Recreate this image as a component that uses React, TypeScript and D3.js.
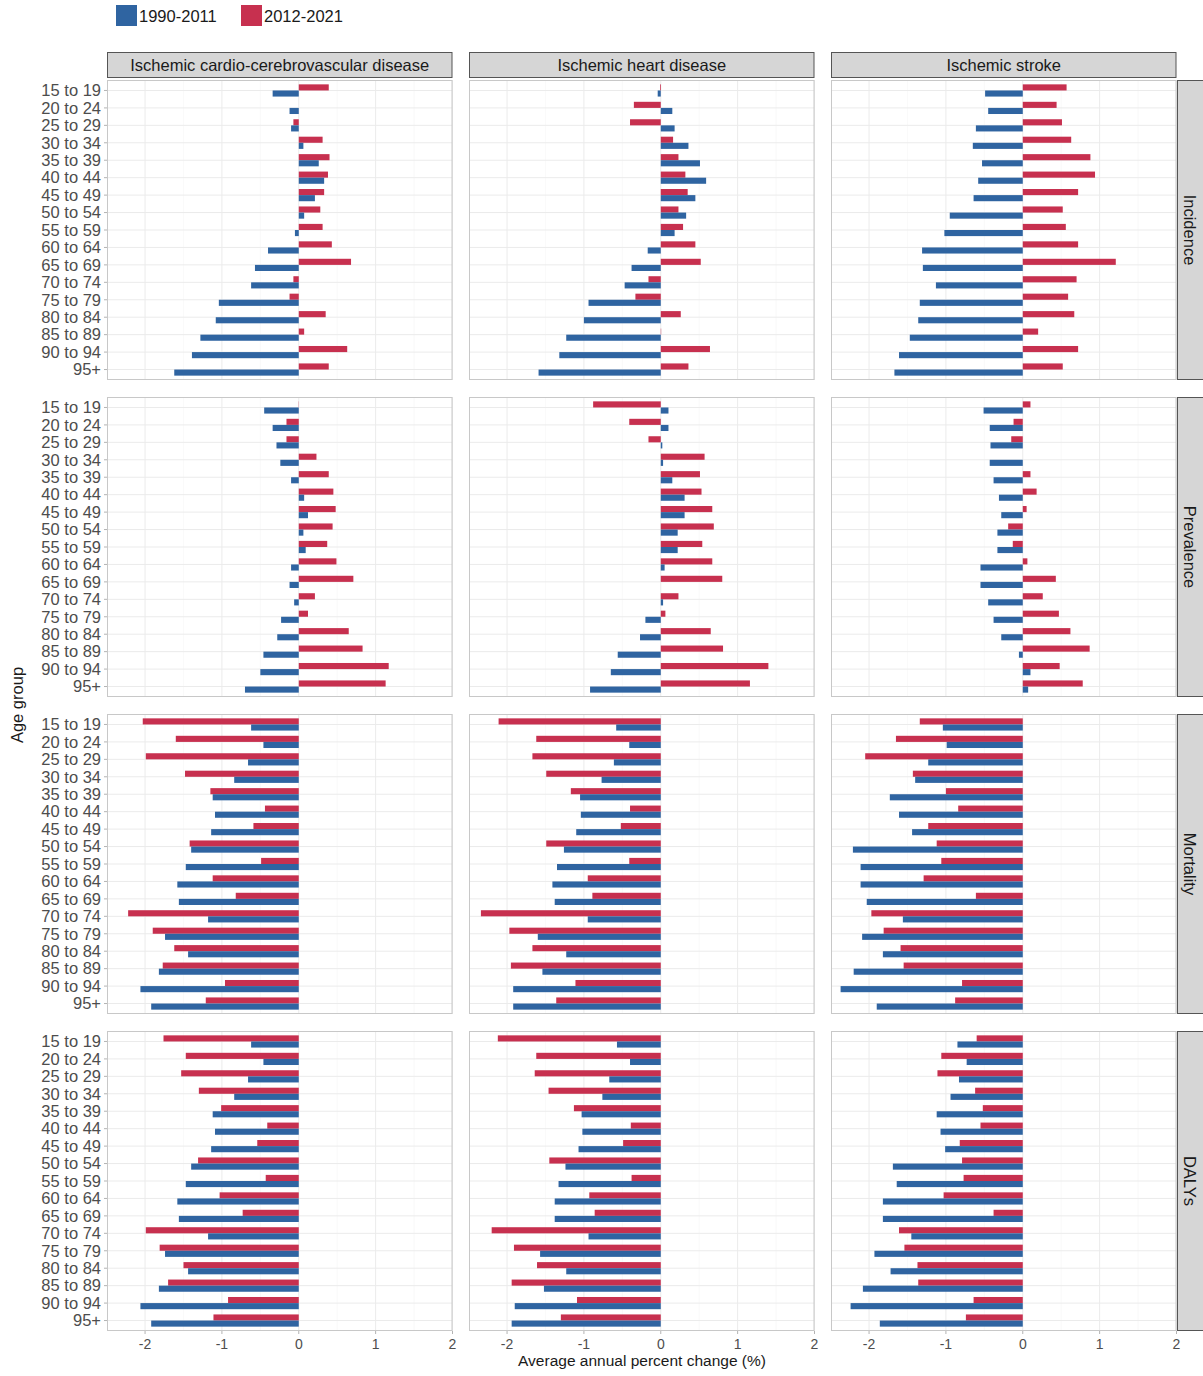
import React from "react";
import * as d3 from "d3";

const ageGroups = ["15 to 19", "20 to 24", "25 to 29", "30 to 34", "35 to 39", "40 to 44", "45 to 49", "50 to 54", "55 to 59", "60 to 64", "65 to 69", "70 to 74", "75 to 79", "80 to 84", "85 to 89", "90 to 94", "95+"];
const causes = ["Ischemic cardio-cerebrovascular disease", "Ischemic heart disease", "Ischemic stroke"];
const measures = ["Incidence", "Prevalence", "Mortality", "DALYs"];
const periods = ["1990-2011", "2012-2021"];
const xTicks = [-2, -1, 0, 1, 2];
const xMinor = [-1.5, -0.5, 0.5, 1.5];

// Incidence
const iccdInc90 = [-0.34, -0.12, -0.10, 0.06, 0.26, 0.33, 0.21, 0.07, -0.05, -0.40, -0.57, -0.62, -1.04, -1.08, -1.28, -1.39, -1.62];
const iccdInc12 = [0.39, 0.0, -0.07, 0.31, 0.40, 0.38, 0.33, 0.28, 0.31, 0.43, 0.68, -0.07, -0.12, 0.35, 0.07, 0.63, 0.39];
const ihdInc90 = [-0.04, 0.15, 0.18, 0.36, 0.51, 0.59, 0.45, 0.33, 0.18, -0.17, -0.38, -0.47, -0.94, -1.00, -1.23, -1.32, -1.59];
const ihdInc12 = [-0.01, -0.35, -0.40, 0.16, 0.23, 0.32, 0.35, 0.23, 0.29, 0.45, 0.52, -0.16, -0.33, 0.26, 0.005, 0.64, 0.36];
const isInc90 = [-0.49, -0.45, -0.61, -0.65, -0.53, -0.58, -0.64, -0.95, -1.02, -1.31, -1.30, -1.13, -1.34, -1.36, -1.47, -1.61, -1.67];
const isInc12 = [0.57, 0.44, 0.51, 0.63, 0.88, 0.94, 0.72, 0.52, 0.56, 0.72, 1.21, 0.70, 0.59, 0.67, 0.20, 0.72, 0.52];

// Prevalence
const iccdPrev90 = [-0.45, -0.34, -0.29, -0.24, -0.10, 0.07, 0.12, 0.06, 0.09, -0.10, -0.12, -0.06, -0.23, -0.28, -0.46, -0.50, -0.70];
const iccdPrev12 = [0.003, -0.16, -0.16, 0.23, 0.39, 0.45, 0.48, 0.44, 0.37, 0.49, 0.71, 0.21, 0.12, 0.65, 0.83, 1.17, 1.13];
const ihdPrev90 = [0.10, 0.10, 0.02, 0.03, 0.15, 0.31, 0.31, 0.22, 0.22, 0.05, 0.0, 0.03, -0.20, -0.27, -0.56, -0.65, -0.92];
const ihdPrev12 = [-0.88, -0.41, -0.16, 0.57, 0.51, 0.53, 0.67, 0.69, 0.54, 0.67, 0.80, 0.23, 0.06, 0.65, 0.81, 1.40, 1.16];
const isPrev90 = [-0.51, -0.43, -0.42, -0.43, -0.38, -0.31, -0.28, -0.33, -0.33, -0.55, -0.55, -0.45, -0.38, -0.28, -0.05, 0.10, 0.07];
const isPrev12 = [0.10, -0.12, -0.15, 0.0, 0.10, 0.18, 0.05, -0.19, -0.13, 0.06, 0.43, 0.26, 0.47, 0.62, 0.87, 0.48, 0.78];

// Mortality
const iccdMort90 = [-0.62, -0.46, -0.66, -0.84, -1.12, -1.09, -1.14, -1.40, -1.47, -1.58, -1.56, -1.18, -1.74, -1.44, -1.82, -2.06, -1.92];
const iccdMort12 = [-2.03, -1.60, -1.99, -1.48, -1.15, -0.44, -0.59, -1.42, -0.49, -1.12, -0.82, -2.22, -1.90, -1.62, -1.77, -0.96, -1.21];
const ihdMort90 = [-0.58, -0.41, -0.61, -0.77, -1.05, -1.04, -1.10, -1.26, -1.35, -1.41, -1.38, -0.95, -1.60, -1.23, -1.54, -1.92, -1.92];
const ihdMort12 = [-2.11, -1.62, -1.67, -1.49, -1.17, -0.40, -0.52, -1.49, -0.41, -0.95, -0.89, -2.34, -1.97, -1.67, -1.95, -1.11, -1.36];
const isMort90 = [-1.04, -0.99, -1.23, -1.40, -1.73, -1.61, -1.44, -2.21, -2.11, -2.11, -2.03, -1.56, -2.09, -1.82, -2.20, -2.37, -1.90];
const isMort12 = [-1.34, -1.65, -2.05, -1.43, -1.00, -0.84, -1.23, -1.12, -1.06, -1.29, -0.61, -1.97, -1.81, -1.59, -1.55, -0.79, -0.88];

// DALYs
const iccdDaly90 = [-0.62, -0.46, -0.66, -0.84, -1.12, -1.09, -1.14, -1.40, -1.47, -1.58, -1.56, -1.18, -1.74, -1.44, -1.82, -2.06, -1.92];
const iccdDaly12 = [-1.76, -1.47, -1.53, -1.30, -1.01, -0.41, -0.54, -1.31, -0.43, -1.03, -0.73, -1.99, -1.81, -1.50, -1.70, -0.92, -1.11];
const ihdDaly90 = [-0.57, -0.40, -0.67, -0.76, -1.03, -1.02, -1.07, -1.24, -1.33, -1.38, -1.38, -0.94, -1.57, -1.23, -1.52, -1.90, -1.94];
const ihdDaly12 = [-2.12, -1.62, -1.64, -1.46, -1.13, -0.39, -0.49, -1.45, -0.38, -0.93, -0.86, -2.20, -1.91, -1.61, -1.94, -1.09, -1.30];
const isDaly90 = [-0.85, -0.73, -0.83, -0.94, -1.12, -1.07, -1.01, -1.69, -1.64, -1.82, -1.82, -1.45, -1.93, -1.72, -2.08, -2.24, -1.86];
const isDaly12 = [-0.60, -1.06, -1.11, -0.62, -0.52, -0.55, -0.82, -0.79, -0.77, -1.03, -0.38, -1.61, -1.54, -1.37, -1.36, -0.64, -0.74];

const panelData: number[][][][] = [
  [[iccdInc90, iccdInc12], [ihdInc90, ihdInc12], [isInc90, isInc12]],
  [[iccdPrev90, iccdPrev12], [ihdPrev90, ihdPrev12], [isPrev90, isPrev12]],
  [[iccdMort90, iccdMort12], [ihdMort90, ihdMort12], [isMort90, isMort12]],
  [[iccdDaly90, iccdDaly12], [ihdDaly90, ihdDaly12], [isDaly90, isDaly12]],
];

const BLUE = "#2f64a1";
const RED = "#c7304f";
const FONT = "'Liberation Sans', Arial, Helvetica, sans-serif";

const colX = [107, 469, 831];
const rowY = [80, 397, 714, 1031];
const PW = 345.5;
const PH = 300;

export default function App() {
  const x = d3.scaleLinear().domain([-2.495, 2]).range([0, PW]);
  const y = d3.scalePoint<string>().domain(ageGroups).range([0, PH]).padding(0.6);
  const bw = y.step() * 0.35;

  return (
    <svg width={1203} height={1376} style={{ position: "absolute", left: 0, top: 0, background: "#fff" }} fontFamily={FONT}>
      <rect x={0} y={0} width={1203} height={1376} fill="#fff" />
      {/* legend */}
      <g>
        <rect x={116} y={5} width={21} height={21} fill={BLUE} />
        <text x={139} y={16} dy="0.35em" fontSize={16.5} fill="#1a1a1a">{periods[0]}</text>
        <rect x={241} y={5} width={21} height={21} fill={RED} />
        <text x={264} y={16} dy="0.35em" fontSize={16.5} fill="#1a1a1a">{periods[1]}</text>
      </g>
      {/* column strips */}
      {causes.map((c, ci) => (
        <g key={c} transform={`translate(${colX[ci]},52)`}>
          <rect x={0.5} y={0.5} width={PW - 1} height={25} fill="#d6d6d6" stroke="#555" strokeWidth={1} />
          <text x={PW / 2} y={13.5} dy="0.35em" textAnchor="middle" fontSize={16.5} fill="#1a1a1a">{c}</text>
        </g>
      ))}
      {/* row strips */}
      {measures.map((m, ri) => (
        <g key={m} transform={`translate(1177,${rowY[ri]})`}>
          <rect x={0.5} y={0.5} width={30} height={PH - 1} fill="#d6d6d6" stroke="#555" strokeWidth={1} />
          <text transform={`translate(12.5,${PH / 2}) rotate(90)`} dy="0.35em" textAnchor="middle" fontSize={16.5} fill="#1a1a1a">{m}</text>
        </g>
      ))}
      {/* panels */}
      {measures.map((m, ri) =>
        causes.map((c, ci) => {
          const [v90, v12] = panelData[ri][ci];
          return (
            <g key={`${m}-${c}`} transform={`translate(${colX[ci]},${rowY[ri]})`}>
              <rect x={0} y={0} width={PW} height={PH} fill="#fff" />
              {xMinor.map((t) => (
                <line key={`mn${t}`} x1={x(t)} x2={x(t)} y1={0} y2={PH} stroke="#f5f5f5" strokeWidth={0.6} />
              ))}
              {ageGroups.map((a) => (
                <line key={`gy${a}`} x1={0} x2={PW} y1={y(a)} y2={y(a)} stroke="#ebebeb" strokeWidth={1} />
              ))}
              {xTicks.map((t) => (
                <line key={`gx${t}`} x1={x(t)} x2={x(t)} y1={0} y2={PH} stroke="#ebebeb" strokeWidth={1} />
              ))}
              {ageGroups.map((a, i) => {
                const yc = y(a) as number;
                const v1 = v12[i];
                const v0 = v90[i];
                return (
                  <g key={`b${a}`}>
                    <rect x={Math.min(x(0), x(v1))} y={yc - bw} width={Math.abs(x(v1) - x(0))} height={bw} fill={RED} />
                    <rect x={Math.min(x(0), x(v0))} y={yc} width={Math.abs(x(v0) - x(0))} height={bw} fill={BLUE} />
                  </g>
                );
              })}
              <rect x={0.5} y={0.5} width={PW - 1} height={PH - 1} fill="none" stroke="#c8c8c8" strokeWidth={1} />
              {ci === 0 &&
                ageGroups.map((a) => (
                  <g key={`yl${a}`}>
                    <line x1={-3} x2={0} y1={y(a)} y2={y(a)} stroke="#b3b3b3" />
                    <text x={-6} y={y(a)} dy="0.35em" textAnchor="end" fontSize={16.5} fill="#4d4d4d">{a}</text>
                  </g>
                ))}
              {ri === 3 &&
                xTicks.map((t) => (
                  <g key={`xl${t}`}>
                    <line x1={x(t)} x2={x(t)} y1={PH} y2={PH + 3} stroke="#b3b3b3" />
                    <text x={x(t)} y={PH + 13} dy="0.35em" textAnchor="middle" fontSize={14} fill="#4d4d4d">{t}</text>
                  </g>
                ))}
            </g>
          );
        })
      )}
      <text x={642} y={1361} dy="0.35em" textAnchor="middle" fontSize={15.5} fill="#1a1a1a">Average annual percent change (%)</text>
      <text transform="translate(17,705) rotate(-90)" dy="0.35em" textAnchor="middle" fontSize={16.5} fill="#1a1a1a">Age group</text>
    </svg>
  );
}
